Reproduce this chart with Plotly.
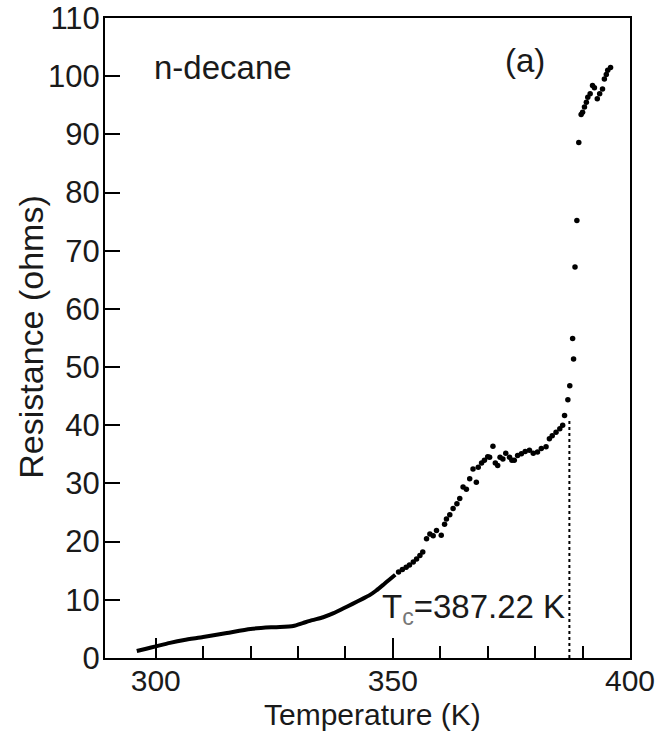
import plotly.graph_objects as go

# dense (continuous) part of the curve
dense_T = [296.0, 298.0, 300.0, 303.0, 306.0, 310.0, 315.0, 320.0, 325.0, 329.0, 331.0,
           333.0, 335.3, 337.5, 339.5, 341.5, 343.7, 345.1, 346.5, 348.0, 349.3, 350.5]
dense_R = [1.2, 1.6, 2.0, 2.6, 3.1, 3.6, 4.3, 5.0, 5.3, 5.5, 6.0,
           6.5, 7.0, 7.7, 8.5, 9.3, 10.2, 10.8, 11.6, 12.6, 13.5, 14.3]

# sparse points
pts_T = [351.2, 352.0, 352.8, 353.5, 354.3, 355.0, 355.7, 356.3, 357.1, 357.8, 358.5,
         359.2, 360.2, 360.9, 361.3, 362.0, 362.7, 363.5, 364.1, 364.8, 365.5, 366.2,
         366.9, 367.6, 368.0, 368.7, 369.3, 370.0, 370.4, 371.1, 371.6, 372.1, 372.6,
         373.2, 373.8, 374.6, 375.1, 375.6, 376.3, 377.1, 377.9, 378.8, 379.6, 380.5,
         381.3, 382.3, 383.0, 383.6, 384.4, 385.2, 385.8, 386.2, 386.9, 387.3, 388.1,
         387.9, 388.4, 388.8, 389.2, 389.7, 390.0, 390.4, 390.8, 391.1, 391.6, 392.1,
         392.5, 393.1, 393.6, 394.2, 394.6, 395.0, 395.3, 395.9]
pts_R = [14.8, 15.2, 15.6, 16.0, 16.5, 17.0, 17.6, 18.2, 20.5, 21.3, 21.0,
         21.9, 21.1, 23.0, 23.9, 24.6, 25.7, 26.5, 27.4, 29.4, 29.0, 30.8,
         32.5, 30.2, 32.8, 33.5, 34.0, 34.6, 34.5, 36.4, 33.5, 33.1, 34.5,
         34.2, 35.2, 34.5, 34.0, 34.0, 34.8, 35.1, 35.5, 35.7, 35.2, 35.4,
         36.0, 36.3, 37.7, 38.2, 38.8, 39.4, 40.0, 41.7, 44.4, 46.8, 51.4,
         54.9, 67.2, 75.2, 88.6, 93.4, 93.8, 94.7, 95.5, 96.4, 97.0, 98.4,
         98.0, 96.1, 97.0, 97.8, 99.5, 100.3, 101.0, 101.5]

TC = 387.22
TC_LINE = [0, 41]

x_ticks = [300, 350, 400]
x_minor = [310, 320, 330, 340, 360, 370, 380, 390]
y_ticks = list(range(0, 111, 10))

FONT = "Liberation Sans, Arial, sans-serif"
INK = "#1a1a1a"

fig = go.Figure()
fig.add_trace(go.Scatter(x=dense_T, y=dense_R, mode="lines",
                         line=dict(color="black", width=4, shape="spline", smoothing=0.6),
                         hoverinfo="skip"))
fig.add_trace(go.Scatter(x=pts_T, y=pts_R, mode="markers",
                         marker=dict(color="black", size=5.5), hoverinfo="skip"))
fig.add_trace(go.Scatter(x=[TC, TC], y=TC_LINE, mode="lines",
                         line=dict(color="black", width=2, dash="dot"), hoverinfo="skip"))

fig.add_annotation(x=314.1, y=101.5, text="n-decane", showarrow=False,
                   font=dict(family=FONT, size=33, color=INK))
fig.add_annotation(x=377.9, y=102.7, text="(a)", showarrow=False,
                   font=dict(family=FONT, size=33, color=INK))
fig.add_annotation(x=386.8, y=8.4, xanchor="right",
                   text="T<sub><span style='color:#777'>c</span></sub>=387.22 K",
                   showarrow=False, font=dict(family=FONT, size=33, color=INK))

# axis titles
fig.add_annotation(xref="paper", yref="paper", x=0.5086, y=-0.117, yanchor="bottom",
                   text="Temperature (K)", showarrow=False,
                   font=dict(family=FONT, size=30, color=INK))
fig.add_annotation(xref="paper", yref="paper", x=-0.141, y=0.502, xanchor="center",
                   textangle=-90, text="Resistance (ohms)", showarrow=False,
                   font=dict(family=FONT, size=34, color=INK))

fig.update_layout(
    width=666, height=734,
    margin=dict(l=105, r=36, t=18, b=76),
    paper_bgcolor="white", plot_bgcolor="white",
    showlegend=False,
    font=dict(family=FONT, color=INK),
    xaxis=dict(range=[289.3, 400], tickmode="array", tickvals=x_ticks,
               ticks="inside", ticklen=20, tickwidth=2, tickcolor="black",
               minor=dict(tickvals=x_minor, ticks="inside", ticklen=12,
                          tickwidth=2, tickcolor="black"),
               showline=True, linecolor="black", linewidth=2, mirror=True,
               showgrid=False, zeroline=False, automargin=False,
               ticklabelstandoff=-5,
               tickfont=dict(size=30, family=FONT, color=INK)),
    yaxis=dict(range=[0, 110], tickmode="array", tickvals=y_ticks,
               ticks="inside", ticklen=15, tickwidth=2, tickcolor="black",
               showline=True, linecolor="black", linewidth=2, mirror=True,
               showgrid=False, zeroline=False, automargin=False,
               ticklabelstandoff=-3,
               tickfont=dict(size=31, family=FONT, color=INK)),
)

fig.write_html("out.html")
